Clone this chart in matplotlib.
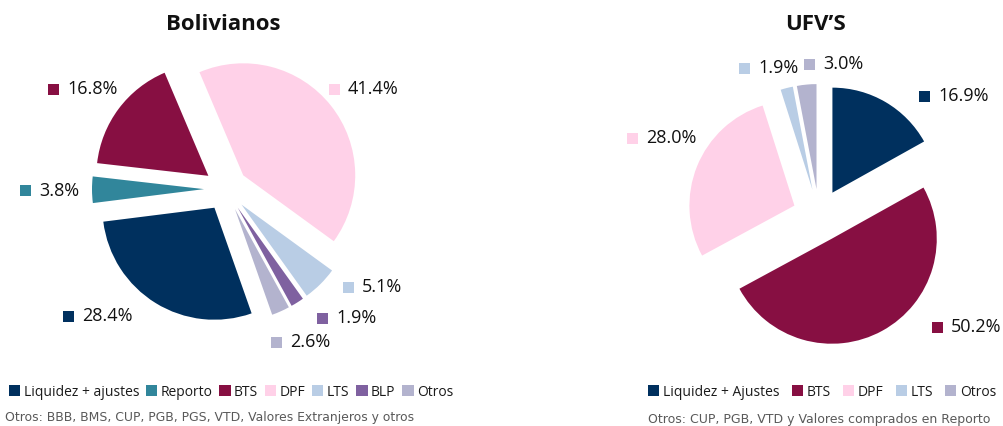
import matplotlib
matplotlib.use("Agg")
import matplotlib.pyplot as plt
from matplotlib.patches import Patch, Rectangle

W, H = 1004, 426

# ---------------- data ----------------
bob_categories = ["Liquidez + ajustes", "Reporto", "BTS", "DPF", "LTS", "BLP", "Otros"]
bob_values = [28.4, 3.8, 16.8, 41.4, 5.1, 1.9, 2.6]

ufv_categories = ["Liquidez + Ajustes", "BTS", "DPF", "LTS", "Otros"]
ufv_values = [16.9, 50.2, 28.0, 1.9, 3.0]

bob_title = "Bolivianos"
ufv_title = "UFV\u2019S"
bob_note = "Otros: BBB, BMS, CUP, PGB, PGS, VTD, Valores Extranjeros y otros"
ufv_note = "Otros: CUP, PGB, VTD y Valores comprados en Reporto"

# ---------------- styles ----------------
palette = {
    "Liquidez": "#00305E",
    "Reporto": "#31869B",
    "BTS": "#870F42",
    "DPF": "#FFD1E8",
    "LTS": "#B9CDE5",
    "BLP": "#7F61A0",
    "Otros": "#B3B3CE",
}
def col(name):
    return palette[name.split()[0]]

bob_colors = [col(c) for c in bob_categories]
ufv_colors = [col(c) for c in ufv_categories]

# label anchor positions (pixel layout: square left edge, centre y)
bob_label_pos = [(63, 316), (20, 191), (48, 89), (329, 89), (343, 287), (317, 318), (271, 342)]
ufv_label_pos = [(919, 96), (932, 327), (627, 138), (739, 68), (804, 64)]

LABEL_FONT = "Open Sans"
fig = plt.figure(figsize=(W / 100, H / 100), dpi=100)
ax = fig.add_axes([0, 0, 1, 1])

def Y(y):
    return H - y

# left pie (explode given in pixel units = data units here)
ax.pie(bob_values, colors=bob_colors, startangle=-70.6, counterclock=False,
       explode=[22] * len(bob_values), center=(226, Y(189)), radius=112,
       wedgeprops=dict(linewidth=0), frame=True)
# right pie
ax.pie(ufv_values, colors=ufv_colors, startangle=90, counterclock=False,
       explode=[26.5] * len(ufv_values), center=(819, Y(215.5)), radius=105,
       wedgeprops=dict(linewidth=0), frame=True)
ax.set_xlim(0, W)
ax.set_ylim(0, H)
ax.set_aspect("equal")
ax.axis("off")

def data_labels(values, colors, positions):
    for v, c, (sx, sy) in zip(values, colors, positions):
        ax.add_patch(Rectangle((sx, Y(sy) - 5.5), 11, 11, facecolor=c, edgecolor="none"))
        ax.text(sx + 19, Y(sy), f"{v:.1f}%", ha="left", va="center",
                fontsize=13, family=LABEL_FONT, color="#111111")

data_labels(bob_values, bob_colors, bob_label_pos)
data_labels(ufv_values, ufv_colors, ufv_label_pos)

# titles
ax.text(223, Y(25), bob_title, ha="center", va="center", fontsize=16,
        fontweight="bold", family=LABEL_FONT, color="#111111")
ax.text(816, Y(25), ufv_title, ha="center", va="center", fontsize=16,
        fontweight="bold", family=LABEL_FONT, color="#111111")

# legends
def make_legend(cats, colors, x, y, size, colspace):
    handles = [Patch(facecolor=c, edgecolor="none") for c in colors]
    fig.legend(handles, cats, loc="center left", bbox_to_anchor=(x / W, 1 - y / H),
               ncol=len(cats), frameon=False, handlelength=0.8, handleheight=0.8,
               handletextpad=0.25, columnspacing=colspace, borderpad=0, borderaxespad=0,
               prop=dict(family=LABEL_FONT, size=size), labelcolor="#1a1a1a")

make_legend(bob_categories, bob_colors, 9, 392, 10, 0.5)
make_legend(ufv_categories, ufv_colors, 648, 392, 10, 0.9)

# footnotes
ax.text(5, Y(418), bob_note, ha="left", va="center", fontsize=8.9,
        family="DejaVu Sans", color="#595959")
ax.text(648, Y(419), ufv_note, ha="left", va="center", fontsize=9.0,
        family="DejaVu Sans", color="#595959")

fig.savefig("out.png", dpi=100)
